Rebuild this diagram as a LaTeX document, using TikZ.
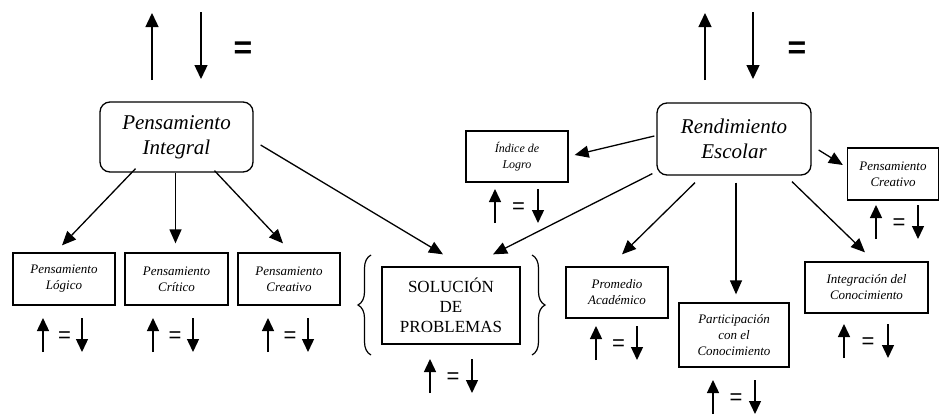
\documentclass[tikz,border=0pt]{standalone}
\usepackage{fontspec}
\setmainfont{Liberation Serif}
\newfontfamily\arial{Liberation Sans}
\usetikzlibrary{arrows.meta,decorations.pathreplacing}

\tikzset{
  grande/.style={draw, rounded corners=10pt, line width=1.3pt, align=center, inner sep=0pt,
    font=\fontsize{21}{25}\selectfont\itshape},
  caja/.style={draw, line width=1.3pt, align=center, inner sep=0pt,
    font=\fontsize{13}{16}\selectfont\itshape},
  conector/.style={line width=1.3pt, -{Triangle[length=14pt,width=12pt]}},
  flecha/.style={line width=1.4pt, -{Triangle[length=14pt,width=13pt]}},
  flechita/.style={line width=1.4pt, -{Triangle[length=13pt,width=12pt]}},
  igual/.style={font=\arial\fontsize{22}{22}\selectfont, inner sep=0pt},
  igualgrande/.style={font=\arial\bfseries\fontsize{32}{32}\selectfont, inner sep=0pt},
  llave/.style={decorate, decoration={brace, amplitude=13pt}, line width=1.2pt}
}

\begin{document}
\begin{tikzpicture}[x=1pt, y=-1pt]
        \useasboundingbox (0,0) rectangle (939,415);
        % cajas principales
        \node[grande, minimum width=153pt, minimum height=70pt] (integral) at (176.5,137) {Pensamiento\\Integral};
        \node[grande, minimum width=154pt, minimum height=72pt] (rendimiento) at (734,139) {Rendimiento\\Escolar};
        % cajas de abajo
        \node[caja, minimum width=102pt, minimum height=52pt] (logico) at (64,279) {Pensamiento\\Lógico};
        \node[caja, minimum width=103pt, minimum height=52pt] (critico) at (176.5,279) {Pensamiento\\Crítico};
        \node[caja, minimum width=102pt, minimum height=52pt] (creativo) at (289,279) {Pensamiento\\Creativo};
        \node[caja, minimum width=138pt, minimum height=77pt, font=\fontsize{17}{20}\selectfont] (solucion) at (451,305.5) {SOLUCIÓN\\DE\\PROBLEMAS};
        \node[caja, minimum width=102pt, minimum height=51pt, font=\fontsize{12}{16}\selectfont\itshape] (indice) at (517,156.5) {Índice de\\Logro};
        \node[caja, minimum width=91pt, minimum height=52pt] (creativob) at (893,174) {Pensamiento\\Creativo};
        \node[caja, minimum width=102pt, minimum height=51pt] (promedio) at (617,292.5) {Promedio\\Académico};
        \node[caja, minimum width=110pt, minimum height=64pt] (participacion) at (734,335) {Participación\\con el\\Conocimiento};
        \node[caja, minimum width=123pt, minimum height=51pt] (integracion) at (866.5,287.5) {Integración del\\Conocimiento};
        % conectores
        \draw[conector] ([shift={(-41,-4)}]integral.south) -- ([shift={(-2,-7)}]logico.north);
        \draw[conector] ([shift={(-1,0)}]integral.south) -- ([shift={(-1,-9)}]critico.north);
        \draw[conector] ([shift={(38,-2)}]integral.south) -- ([shift={(-6,-9)}]creativo.north);
        \draw[conector] ([shift={(7,8)}]integral.east) -- ([shift={(-8,-12)}]solucion.north);
        \draw[conector] ([shift={(-2,-3)}]rendimiento.west) -- ([shift={(6,-1.5)}]indice.east);
        \draw[conector] ([shift={(7,11)}]rendimiento.east) -- ([shift={(-4,-9)}]creativob.west);
        \draw[conector] ([shift={(-4,-2)}]rendimiento.south west) -- ([shift={(42,-12)}]solucion.north);
        \draw[conector] ([shift={(-39,7)}]rendimiento.south) -- ([shift={(5,-12)}]promedio.north);
        \draw[conector] ([shift={(2,7)}]rendimiento.south) -- ([shift={(2,-8)}]participacion.north);
        \draw[conector] ([shift={(58,6)}]rendimiento.south) -- ([shift={(-1.5,-9)}]integracion.north);
        % llaves
        \coordinate (llaveA) at (371,255);
        \coordinate (llaveB) at (371,355);
        \coordinate (llaveC) at (532,255);
        \coordinate (llaveD) at (532,355);
        \draw[llave] (llaveB) -- (llaveA);
        \draw[llave] (llaveC) -- (llaveD);
        % flechas de arriba
        \coordinate (subeIa) at (152,80);
        \coordinate (subeIb) at (152,13);
        \coordinate (bajaIa) at (201,12);
        \coordinate (bajaIb) at (201,79);
        \draw[flecha] (subeIa) -- (subeIb);
        \draw[flecha] (bajaIa) -- (bajaIb);
        \node[igualgrande] (igualI) at (243,50) {=};
        \coordinate (subeRa) at (705,80);
        \coordinate (subeRb) at (705,13);
        \coordinate (bajaRa) at (753,12);
        \coordinate (bajaRb) at (753,79);
        \draw[flecha] (subeRa) -- (subeRb);
        \draw[flecha] (bajaRa) -- (bajaRb);
        \node[igualgrande] (igualR) at (797,50) {=};
        % flechitas
        \foreach \n/\u/\d/\y in {a/43/82/335, b/153/193/335, c/268/308/335, d/430/472/376,
                                  e/495/538/206, f/596/637/343, g/713/755/397, h/844/888/341, i/876/918/222} {
          \coordinate (arr\n a) at (\u,\y+17);
          \coordinate (arr\n b) at (\u,\y-17);
          \coordinate (aba\n a) at (\d,\y-17);
          \coordinate (aba\n b) at (\d,\y+17);
          \draw[flechita] (arr\n a) -- (arr\n b);
          \draw[flechita] (aba\n a) -- (aba\n b);
          \node[igual] (igual\n) at ({(\u+\d)/2+2},\y+2) {=};
        }
    \end{tikzpicture}
\end{document}
